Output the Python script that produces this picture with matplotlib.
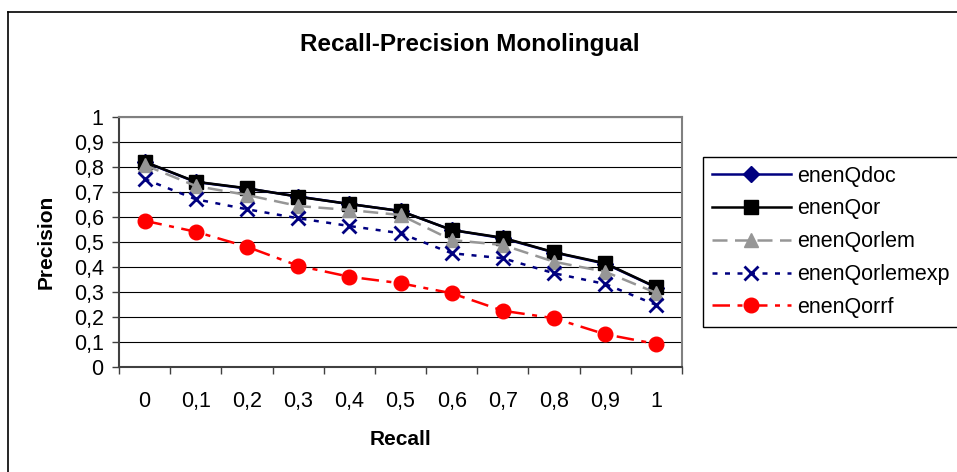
import matplotlib
matplotlib.use("Agg")
import matplotlib.pyplot as plt
from matplotlib.lines import Line2D

plt.rcParams['font.family'] = ['Liberation Sans', 'DejaVu Sans']

recall = ["0", "0,1", "0,2", "0,3", "0,4", "0,5", "0,6", "0,7", "0,8", "0,9", "1"]

enenQdoc = [0.82, 0.74, 0.714, 0.682, 0.652, 0.624, 0.548, 0.515, 0.458, 0.413, 0.318]
enenQor = [0.821, 0.741, 0.715, 0.681, 0.652, 0.624, 0.548, 0.517, 0.459, 0.415, 0.319]
enenQorlem = [0.808, 0.724, 0.688, 0.644, 0.628, 0.608, 0.508, 0.488, 0.421, 0.381, 0.296]
enenQorlemexp = [0.752, 0.671, 0.631, 0.595, 0.564, 0.535, 0.455, 0.435, 0.375, 0.332, 0.248]
enenQorrf = [0.585, 0.541, 0.481, 0.405, 0.361, 0.335, 0.295, 0.225, 0.195, 0.131, 0.092]

series = [
    ("enenQdoc", enenQdoc, "#000080", "-", "D", 8),
    ("enenQor", enenQor, "black", "-", "s", 10.5),
    ("enenQorlem", enenQorlem, "#969696", (0, (6, 3)), "^", 10.5),
    ("enenQorlemexp", enenQorlemexp, "#000080", (0, (2, 3)), "x", 10.5),
    ("enenQorrf", enenQorrf, "#ff0000", (0, (7, 3, 2, 3)), "o", 10.5),
]

fig = plt.figure(figsize=(9.57, 4.72), dpi=100)
ax = fig.add_axes([119 / 957, 1 - 367 / 472, 563 / 957, 250 / 472])

x = list(range(len(recall)))
for name, vals, col, ls, mk, ms in series:
    ax.plot(x, vals, color=col, linestyle=ls, linewidth=1.8, marker=mk,
            markersize=ms, markeredgewidth=2 if mk == "x" else 1,
            markeredgecolor=col, markerfacecolor=col, label=name, zorder=3)

ax.set_xlim(-0.5, len(recall) - 0.5)
ax.set_ylim(0, 1)
ax.set_yticks([i / 10 for i in range(11)])
ax.set_yticklabels(["0"] + ["0," + str(i) for i in range(1, 10)] + ["1"], fontsize=15.5)
ax.set_xticks(x)
ax.set_xticklabels(recall, fontsize=15.5)
ax.set_xticks([i - 0.5 for i in range(len(recall) + 1)], minor=True)
ax.tick_params(axis='x', which='major', length=0, pad=17)
ax.tick_params(axis='x', which='minor', length=5, width=1, color='#404040')
ax.tick_params(axis='y', length=5, width=1, color='#404040', pad=6)
ax.yaxis.grid(True, color='black', linewidth=0.8)
ax.set_axisbelow(True)
for s in ['top', 'right']:
    ax.spines[s].set_color('#808080')
    ax.spines[s].set_linewidth(1.5)
for s in ['left', 'bottom']:
    ax.spines[s].set_color('#404040')
    ax.spines[s].set_linewidth(1.5)

ax.set_xlabel("Recall", fontsize=15, fontweight='bold', labelpad=13)
ax.set_ylabel("Precision", fontsize=15, fontweight='bold', labelpad=13)
fig.text(470 / 957, 1 - 45 / 472, "Recall-Precision Monolingual", fontsize=17.5,
         fontweight='bold', ha='center', va='center')

leg = ax.legend(loc='upper left', bbox_to_anchor=(703 / 957, 1 - 157 / 472),
                bbox_transform=fig.transFigure, fontsize=15.5, handlelength=3.7,
                fancybox=False, edgecolor='black', framealpha=1,
                borderpad=0.4, labelspacing=0.55, handletextpad=0.25,
                borderaxespad=0)
leg.get_frame().set_linewidth(1)

# frame of the chart area (top and left edges visible)
fig.add_artist(Line2D([8 / 957, 1], [1 - 12 / 472, 1 - 12 / 472], color='black', linewidth=1.2))
fig.add_artist(Line2D([8 / 957, 8 / 957], [0, 1 - 12 / 472], color='black', linewidth=1.2))

fig.savefig("out.png", dpi=100)
